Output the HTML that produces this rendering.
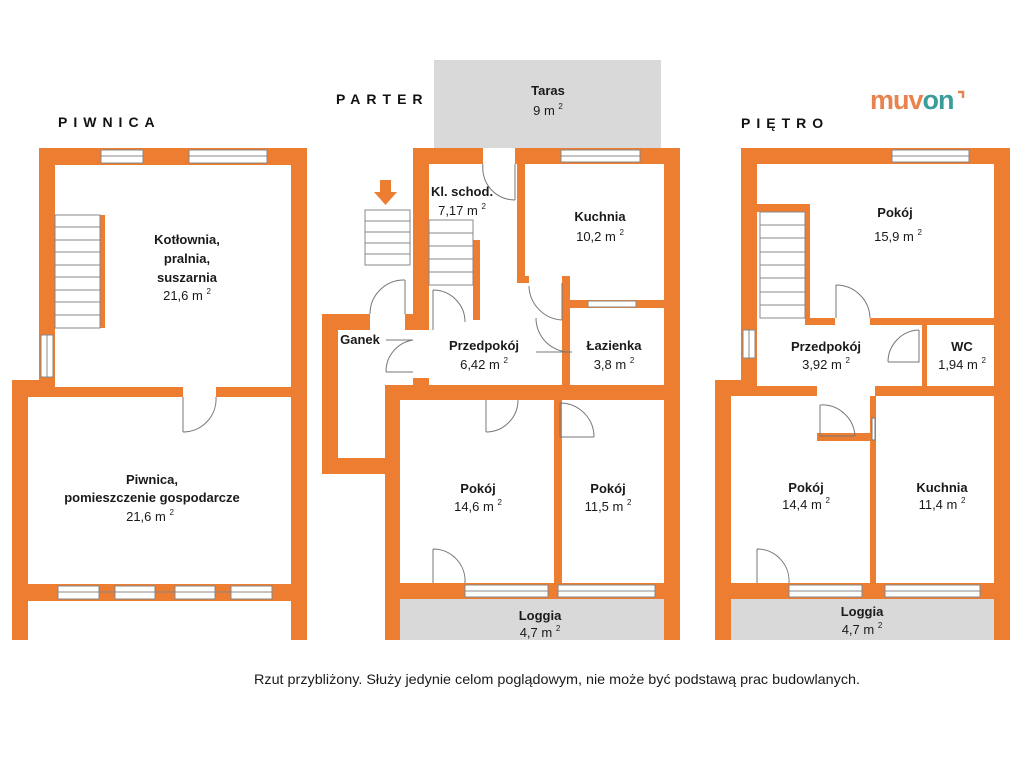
<!DOCTYPE html>
<html><head><meta charset="utf-8"><style>
html,body{margin:0;padding:0;background:#fff;}
svg{display:block}
text{font-family:"Liberation Sans",sans-serif;}
.b{font-weight:bold;font-size:13px;fill:#1a1a1a;text-anchor:middle}
.n{font-size:13px;fill:#1a1a1a;text-anchor:middle}
.s{font-size:8px;fill:#1a1a1a}
.h{font-weight:bold;font-size:14px;letter-spacing:6px;fill:#111}
</style></head><body>
<svg width="1024" height="768" viewBox="0 0 1024 768" xmlns="http://www.w3.org/2000/svg">
<g fill="#ED7D31">
<rect x="39" y="148" width="268" height="17"/>
<rect x="39" y="148" width="16" height="249"/>
<rect x="12" y="380" width="43" height="17"/>
<rect x="12" y="380" width="16" height="260"/>
<rect x="28" y="387" width="155" height="10"/>
<rect x="216" y="387" width="91" height="10"/>
<rect x="291" y="148" width="16" height="492"/>
<rect x="12" y="584" width="295" height="17"/>
<rect x="100" y="215" width="5" height="113"/>
<rect x="413" y="148" width="70" height="16"/>
<rect x="515" y="148" width="165" height="16"/>
<rect x="413" y="148" width="16" height="182"/>
<rect x="413" y="378" width="16" height="22"/>
<rect x="385" y="385" width="279" height="15"/>
<rect x="385" y="385" width="15" height="255"/>
<rect x="664" y="148" width="16" height="492"/>
<rect x="517" y="164" width="8" height="119"/>
<rect x="517" y="276" width="12" height="7"/>
<rect x="562" y="276" width="8" height="110"/>
<rect x="562" y="300" width="102" height="8"/>
<rect x="473" y="240" width="7" height="80"/>
<rect x="322" y="314" width="48" height="16"/>
<rect x="405" y="314" width="24" height="16"/>
<rect x="322" y="314" width="16" height="160"/>
<rect x="322" y="458" width="78" height="16"/>
<rect x="554" y="395" width="8" height="188"/>
<rect x="385" y="583" width="295" height="16"/>
<rect x="741" y="148" width="269" height="16"/>
<rect x="741" y="148" width="16" height="247"/>
<rect x="715" y="380" width="42" height="15"/>
<rect x="715" y="380" width="16" height="260"/>
<rect x="994" y="148" width="16" height="492"/>
<rect x="757" y="204" width="53" height="8"/>
<rect x="805" y="204" width="5" height="121"/>
<rect x="805" y="318" width="30" height="7"/>
<rect x="870" y="318" width="124" height="7"/>
<rect x="922" y="318" width="5" height="70"/>
<rect x="731" y="386" width="86" height="10"/>
<rect x="875" y="386" width="119" height="10"/>
<rect x="817" y="433" width="53" height="8"/>
<rect x="870" y="396" width="6" height="189"/>
<rect x="715" y="583" width="295" height="16"/>
</g>
<rect x="434" y="60" width="227" height="88" fill="#d9d9d9"/>
<rect x="400" y="599" width="264" height="41" fill="#d9d9d9"/>
<rect x="731" y="599" width="263" height="41" fill="#d9d9d9"/>
<g fill="#fff" stroke="#888" stroke-width="1">
<rect x="101" y="150" width="42" height="13"/><line x1="101" y1="156" x2="143" y2="156"/>
<rect x="189" y="150" width="78" height="13"/><line x1="189" y1="156" x2="267" y2="156"/>
<rect x="41" y="335" width="12" height="42"/><line x1="47" y1="335" x2="47" y2="377"/>
<rect x="58" y="586" width="41" height="13"/><rect x="115" y="586" width="40" height="13"/><rect x="175" y="586" width="40" height="13"/><rect x="231" y="586" width="41" height="13"/>
<line x1="58" y1="592" x2="272" y2="592"/>
<rect x="561" y="150" width="79" height="12"/><line x1="561" y1="156" x2="640" y2="156"/>
<rect x="588" y="301" width="48" height="6"/>
<rect x="465" y="585" width="83" height="12"/><line x1="465" y1="591" x2="548" y2="591"/>
<rect x="558" y="585" width="97" height="12"/><line x1="558" y1="591" x2="655" y2="591"/>
<rect x="892" y="150" width="77" height="12"/><line x1="892" y1="156" x2="969" y2="156"/>
<rect x="743" y="330" width="12" height="28"/><line x1="749" y1="330" x2="749" y2="358"/>
<rect x="789" y="585" width="73" height="12"/><line x1="789" y1="591" x2="862" y2="591"/>
<rect x="885" y="585" width="95" height="12"/><line x1="885" y1="591" x2="980" y2="591"/>
</g>
<g fill="#fff" stroke="#888" stroke-width="1">
<rect x="55" y="215" width="45" height="113"/>
<path d="M55 227H100M55 240H100M55 252H100M55 265H100M55 277H100M55 290H100M55 302H100M55 315H100"/>
<rect x="365" y="210" width="45" height="55"/>
<path d="M365 221H410M365 232H410M365 243H410M365 254H410"/>
<rect x="429" y="220" width="44" height="65"/>
<path d="M429 233H473M429 246H473M429 259H473M429 272H473"/>
<rect x="760" y="212" width="45" height="106"/>
<path d="M760 225H805M760 238H805M760 252H805M760 265H805M760 278H805M760 292H805M760 305H805"/>
</g>
<g fill="none" stroke="#777" stroke-width="1">
<path d="M183 397V432M183 432A33 33 0 0 0 216 397"/>
<path d="M515 164V200M515 200A32 32 0 0 1 483 164"/>
<path d="M562 283V320M562 320A35 35 0 0 1 529 286"/>
<path d="M572 352H536M536 318A34 34 0 0 0 572 352"/>
<path d="M433 290V330M433 290A32 32 0 0 1 465 322"/>
<path d="M405 280V314M405 280A34 34 0 0 0 370 314"/>
<path d="M386 340H413M386 372A32 32 0 0 1 413 340 M386 372H413"/>
<path d="M486 400V432M486 432A32 32 0 0 0 518 400"/>
<path d="M560 403V437H594M560 403A34 34 0 0 1 594 437"/>
<path d="M433 549V583M433 549A32 32 0 0 1 465 583"/>
<path d="M836 285V318M836 285A34 34 0 0 1 870 318"/>
<path d="M919 330V362H888M919 330A32 32 0 0 0 888 362"/>
<path d="M820 405V436H855M820 405A33 33 0 0 1 855 436"/>
<path d="M757 549V583M757 549A32 32 0 0 1 789 583"/>
<rect x="872" y="418" width="3" height="22" fill="#fff"/>
</g>
<path d="M380 180H391V192H397L385.5 205L374 192H380Z" fill="#ED7D31"/>
<text x="58" y="127" class="h">PIWNICA</text>
<text x="336" y="104" class="h">PARTER</text>
<text x="741" y="128" class="h">PIĘTRO</text>
<text x="870" y="109" style="font-size:27px;font-weight:bold;letter-spacing:-1px"><tspan fill="#E8834F">muv</tspan><tspan fill="#3a9d9a">on</tspan></text>
<path d="M958 92h5v6" fill="none" stroke="#E8834F" stroke-width="2.5"/>
<text x="187" y="244" class="b">Kotłownia,</text>
<text x="187" y="263" class="b">pralnia,</text>
<text x="187" y="282" class="b">suszarnia</text>
<text x="187" y="300" class="n">21,6 m <tspan class="s" dy="-6">2</tspan></text>
<text x="152" y="484" class="b">Piwnica,</text>
<text x="152" y="502" class="b">pomieszczenie gospodarcze</text>
<text x="150" y="521" class="n">21,6 m <tspan class="s" dy="-6">2</tspan></text>
<text x="548" y="95" class="b">Taras</text>
<text x="548" y="115" class="n">9 m <tspan class="s" dy="-6">2</tspan></text>
<text x="462" y="196" class="b">Kl. schod.</text>
<text x="462" y="215" class="n">7,17 m <tspan class="s" dy="-6">2</tspan></text>
<text x="600" y="221" class="b">Kuchnia</text>
<text x="600" y="241" class="n">10,2 m <tspan class="s" dy="-6">2</tspan></text>
<text x="360" y="344" class="b">Ganek</text>
<text x="484" y="350" class="b">Przedpokój</text>
<text x="484" y="369" class="n">6,42 m <tspan class="s" dy="-6">2</tspan></text>
<text x="614" y="350" class="b">Łazienka</text>
<text x="614" y="369" class="n">3,8 m <tspan class="s" dy="-6">2</tspan></text>
<text x="478" y="493" class="b">Pokój</text>
<text x="478" y="511" class="n">14,6 m <tspan class="s" dy="-6">2</tspan></text>
<text x="608" y="493" class="b">Pokój</text>
<text x="608" y="511" class="n">11,5 m <tspan class="s" dy="-6">2</tspan></text>
<text x="540" y="620" class="b">Loggia</text>
<text x="540" y="637" class="n">4,7 m <tspan class="s" dy="-6">2</tspan></text>
<text x="895" y="217" class="b">Pokój</text>
<text x="898" y="241" class="n">15,9 m <tspan class="s" dy="-6">2</tspan></text>
<text x="826" y="351" class="b">Przedpokój</text>
<text x="826" y="369" class="n">3,92 m <tspan class="s" dy="-6">2</tspan></text>
<text x="962" y="351" class="b">WC</text>
<text x="962" y="369" class="n">1,94 m <tspan class="s" dy="-6">2</tspan></text>
<text x="806" y="492" class="b">Pokój</text>
<text x="806" y="509" class="n">14,4 m <tspan class="s" dy="-6">2</tspan></text>
<text x="942" y="492" class="b">Kuchnia</text>
<text x="942" y="509" class="n">11,4 m <tspan class="s" dy="-6">2</tspan></text>
<text x="862" y="616" class="b">Loggia</text>
<text x="862" y="634" class="n">4,7 m <tspan class="s" dy="-6">2</tspan></text>
<text x="557" y="684" class="n" style="font-size:14px" textLength="606" lengthAdjust="spacingAndGlyphs">Rzut przybliżony. Służy jedynie celom poglądowym, nie może być podstawą prac budowlanych.</text>
</svg>
</body></html>
